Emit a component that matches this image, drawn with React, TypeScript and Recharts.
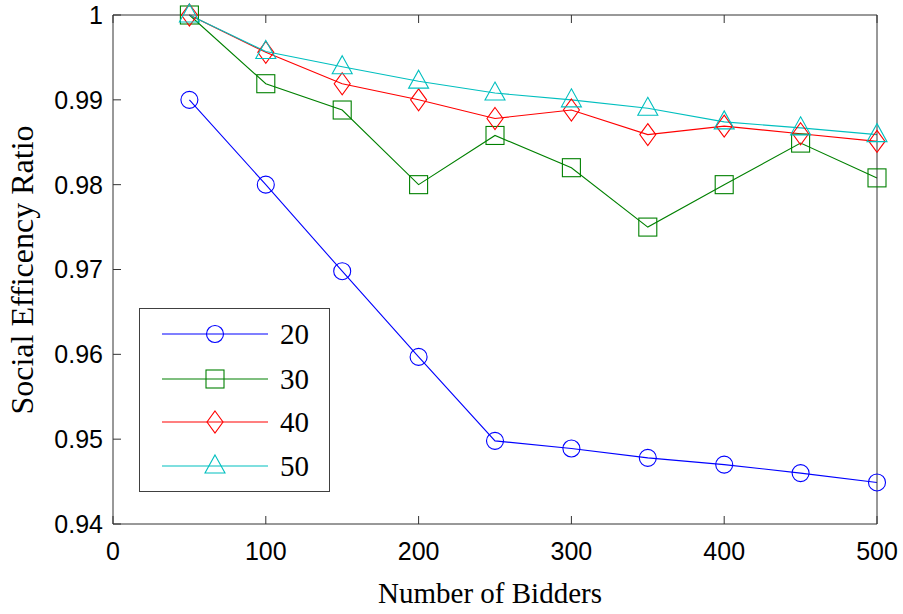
import React from "react";
import { LineChart, Line, XAxis, YAxis, Legend } from "recharts";

const bidders = [50, 100, 150, 200, 250, 300, 350, 400, 450, 500];
const s20 = [0.990, 0.980, 0.9698, 0.9597, 0.9498, 0.9489, 0.9478, 0.9470, 0.9460, 0.9449];
const s30 = [1.0, 0.9919, 0.9888, 0.9800, 0.9858, 0.9820, 0.9750, 0.9800, 0.9849, 0.9808];
const s40 = [1.0, 0.9956, 0.9919, 0.9900, 0.9878, 0.9888, 0.9859, 0.9869, 0.9860, 0.9851];
const s50 = [1.0, 0.9957, 0.9939, 0.9922, 0.9908, 0.9900, 0.9890, 0.9874, 0.9867, 0.9859];
const xTicks = [0, 100, 200, 300, 400, 500];
const yTicks = [0.94, 0.95, 0.96, 0.97, 0.98, 0.99, 1];
const seriesNames = ["20", "30", "40", "50"];

const data = bidders.map((b, i) => ({ x: b, s20: s20[i], s30: s30[i], s40: s40[i], s50: s50[i] }));

const COLORS: Record<string, string> = {
  s20: "#0000ff",
  s30: "#008000",
  s40: "#ff0000",
  s50: "#00bfbf",
};
const SHAPES: Record<string, string> = { s20: "circle", s30: "square", s40: "diamond", s50: "triangle" };
const SERIF = "'Liberation Serif', 'Times New Roman', serif";

function Marker({ shape, cx, cy, color }: { shape: string; cx: number; cy: number; color: string }) {
  const common = { fill: "none", stroke: color, strokeWidth: 1.1 };
  if (shape === "circle") return <circle cx={cx} cy={cy} r={8.5} {...common} />;
  if (shape === "square") return <rect x={cx - 9} y={cy - 9} width={18} height={18} {...common} />;
  if (shape === "diamond")
    return <polygon points={`${cx},${cy - 11} ${cx + 8},${cy} ${cx},${cy + 11} ${cx - 8},${cy}`} {...common} />;
  return <polygon points={`${cx},${cy - 11} ${cx + 10},${cy + 7} ${cx - 10},${cy + 7}`} {...common} />;
}

const makeDot = (key: string) => (props: any) => {
  const { cx, cy, index } = props;
  if (cx == null || cy == null) return <g key={`${key}-${index}`} />;
  return (
    <g key={`${key}-${index}`}>
      <Marker shape={SHAPES[key]} cx={cx} cy={cy} color={COLORS[key]} />
    </g>
  );
};

const keys = ["s20", "s30", "s40", "s50"];

const renderLegend = () => (
  <div
    style={{
      width: 191,
      height: 184,
      border: "1.5px solid #404040",
      background: "#fff",
      boxSizing: "border-box",
      position: "relative",
    }}
  >
    <svg width={191} height={184} style={{ position: "absolute", left: 0, top: 0 }}>
      {keys.map((k, i) => {
        const ys = [25, 70, 113, 157];
        const y = ys[i];
        return (
          <g key={k}>
            <line x1={22} x2={128} y1={y} y2={y} stroke={COLORS[k]} strokeWidth={1.1} />
            <Marker shape={SHAPES[k]} cx={75} cy={y} color={COLORS[k]} />
            <text x={140} y={y + 10} style={{ fontFamily: SERIF, fontSize: 29 }} fill="#000">
              {seriesNames[i]}
            </text>
          </g>
        );
      })}
    </svg>
  </div>
);

const tickFont = { fontFamily: "'Liberation Sans', Arial, sans-serif", fontSize: 25, fill: "#000" };

export default function App() {
  return (
    <div style={{ position: "absolute", left: 0, top: 0, background: "#fff" }}>
      <LineChart width={903} height={614} data={data} margin={{ top: 0, right: 0, bottom: 0, left: 0 }}>
        <XAxis
          xAxisId="bottom"
          dataKey="x"
          type="number"
          domain={[0, 500]}
          ticks={xTicks}
          height={90}
          tickSize={-8}
          tickMargin={26}
          stroke="#333"
          tick={tickFont}
          interval={0}
          label={{
            value: "Number of Bidders",
            content: () => (
              <text x={490} y={603} textAnchor="middle" style={{ fontFamily: SERIF, fontSize: 29 }} fill="#000">
                Number of Bidders
              </text>
            ),
          }}
        />
        <XAxis
          xAxisId="top"
          orientation="top"
          dataKey="x"
          type="number"
          domain={[0, 500]}
          ticks={xTicks}
          height={15}
          tickSize={-8}
          stroke="#333"
          tickFormatter={() => ""}
          interval={0}
        />
        <YAxis
          yAxisId="left"
          type="number"
          domain={[0.94, 1]}
          ticks={yTicks}
          width={113}
          tickSize={-8}
          tickMargin={18}
          stroke="#333"
          tick={tickFont}
          interval={0}
          tickFormatter={(v: number) => String(v)}
          label={{
            value: "Social Efficency Ratio",
            content: () => (
              <text
                x={33}
                y={270}
                transform="rotate(-90 33 270)"
                textAnchor="middle"
                style={{ fontFamily: SERIF, fontSize: 32 }}
                fill="#000"
              >
                Social Efficency Ratio
              </text>
            ),
          }}
        />
        <YAxis
          yAxisId="right"
          orientation="right"
          type="number"
          domain={[0.94, 1]}
          ticks={yTicks}
          width={26}
          tickSize={-8}
          stroke="#333"
          tickFormatter={() => ""}
          interval={0}
        />
        <Legend
          layout="horizontal"
          verticalAlign="middle"
          align="center"
          content={renderLegend}
          wrapperStyle={{ position: "absolute", left: 139, top: 308, width: 191, height: 184 }}
        />
        {keys.map((k, i) => (
          <Line
            key={k}
            xAxisId="bottom"
            yAxisId="left"
            type="linear"
            dataKey={k}
            name={seriesNames[i]}
            stroke={COLORS[k]}
            strokeWidth={1.1}
            dot={makeDot(k)}
            activeDot={false}
            isAnimationActive={false}
          />
        ))}
      </LineChart>
    </div>
  );
}
